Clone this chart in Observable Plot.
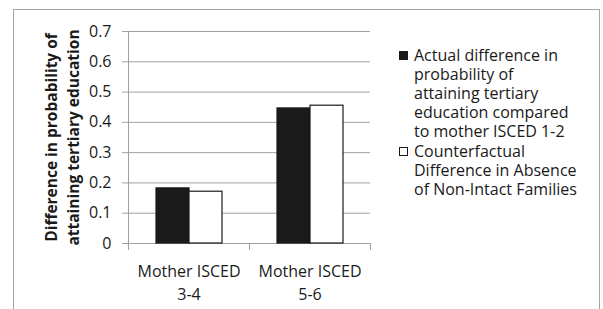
<!DOCTYPE html>
<html>
<head>
<meta charset="utf-8">
<script src="https://cdn.jsdelivr.net/npm/d3@7"></script>
<script src="https://cdn.jsdelivr.net/npm/@observablehq/plot@0.6"></script>
<style>
  html, body { margin: 0; padding: 0; background: #ffffff; }
  #wrap { position: relative; width: 603px; height: 309px; overflow: hidden; font-family: "Open Sans", sans-serif; color: #1a1a1a; }
  #border { position: absolute; left: 13px; top: 9px; width: 587px; height: 330px; border: 1px solid #a6a6a6; box-sizing: border-box; }
  #chart { position: absolute; left: 0; top: 0; }
  #legend { position: absolute; left: 399px; top: 46px; font-size: 16px; line-height: 19px; }
  .entry { display: flex; align-items: flex-start; margin-bottom: 1px; }
  .swatch { width: 9px; height: 9px; box-sizing: border-box; border: 1px solid #1a1a1a; margin-top: 5px; margin-right: 6px; flex: none; }
</style>
</head>
<body>
<div id="wrap">
  <div id="border"></div>
  <div id="chart"></div>
  <div id="legend"></div>
</div>
<script>
// ---- data ----
const categories = ["Mother ISCED\n3-4", "Mother ISCED\n5-6"];
const seriesNames = [
  "Actual difference in probability of attaining tertiary education compared to mother ISCED 1-2",
  "Counterfactual Difference in Absence of Non-Intact Families"
];
const seriesLegendLines = [
  ["Actual difference in", "probability of", "attaining tertiary", "education compared", "to mother ISCED 1-2"],
  ["Counterfactual", "Difference in Absence", "of Non-Intact Families"]
];
const actualValues = [0.182, 0.446];
const counterfactualValues = [0.171, 0.455];
const yTicks = [0, 0.1, 0.2, 0.3, 0.4, 0.5, 0.6, 0.7];
const yTitle = "Difference in probability of\nattaining tertiary education";
const seriesColors = ["#1a1a1a", "#ffffff"];

// ---- table ----
const table = [];
categories.forEach((c, i) => {
  table.push({category: c, series: seriesNames[0], value: actualValues[i]});
  table.push({category: c, series: seriesNames[1], value: counterfactualValues[i]});
});

const gray = "#a0a0a0";
const chart = Plot.plot({
  width: 603,
  height: 309,
  marginLeft: 128,
  marginRight: 233,
  marginTop: 31,
  marginBottom: 66,
  style: {fontFamily: "'Open Sans', sans-serif", fontSize: "16px", color: "#1a1a1a", background: "transparent"},
  fx: {domain: categories, padding: 0, label: null},
  x: {domain: seriesNames, paddingInner: 0, paddingOuter: 0.78, axis: null},
  y: {domain: [0, 0.7], label: null},
  color: {domain: seriesNames, range: seriesColors},
  marks: [
    Plot.gridY(yTicks, {stroke: gray, strokeOpacity: 1}),
    Plot.frame({anchor: "left", facetAnchor: "left", stroke: gray}),
    Plot.frame({anchor: "left", insetTop: 212, insetBottom: -6, stroke: gray}),
    Plot.frame({anchor: "right", facetAnchor: "right", insetTop: 212, insetBottom: -6, stroke: gray}),
    Plot.axisY(yTicks, {tickSize: 6, tickPadding: 11, stroke: gray, fontSize: 16, label: null,
      tickFormat: d => d === 0 ? "0" : d.toFixed(1)}),
    Plot.barY(table, {fx: "category", x: "series", y: "value", fill: "series", stroke: "#1a1a1a", strokeWidth: 1.2}),
    Plot.axisFx({anchor: "bottom", tickSize: 0, tickPadding: 18, lineHeight: 1.4, fontSize: 16, label: null}),
    Plot.text([yTitle], {facetAnchor: "left", frameAnchor: "left", textAnchor: "middle", rotate: -90, dx: -68,
      fontWeight: "bold", fontSize: 15.5, lineHeight: 1.42, fill: "#1a1a1a"})
  ]
});
document.getElementById("chart").appendChild(chart);

// ---- legend ----
const legend = document.getElementById("legend");
seriesNames.forEach((s, i) => {
  const e = document.createElement("div");
  e.className = "entry";
  const sw = document.createElement("span");
  sw.className = "swatch";
  sw.style.background = seriesColors[i];
  const t = document.createElement("div");
  t.innerHTML = seriesLegendLines[i].join("<br>");
  e.appendChild(sw);
  e.appendChild(t);
  legend.appendChild(e);
});
</script>
</body>
</html>
